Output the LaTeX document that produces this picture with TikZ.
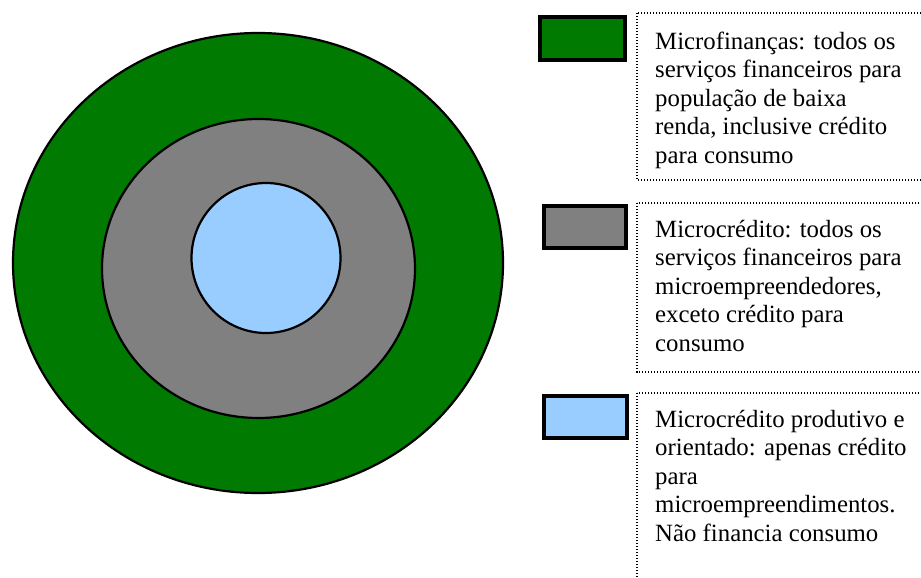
\documentclass[tikz,border=0pt]{standalone}
\usepackage{fontspec}
\setmainfont{Liberation Serif}
\definecolor{ringgreen}{RGB}{0,122,0}
\definecolor{ringgray}{RGB}{128,128,128}
\definecolor{ringblue}{RGB}{153,204,255}
\begin{document}
\begin{tikzpicture}[x=1pt,y=-1pt,
  ring/.style={draw=black,line width=2.2pt},
  swatch/.style={draw=black,line width=4pt},
  frame/.style={draw=black,line width=1.3pt,dash pattern=on 1.3pt off 1.7pt},
  legendtext/.style={anchor=north west,inner sep=0pt,align=left,
    font=\fontsize{24.8}{28.5}\selectfont}]
\useasboundingbox (0,0) rectangle (921,578);
\begin{scope}
\clip (0,0) rectangle (921,578);
% concentric rings
\draw[ring,fill=ringgreen] (258,263) ellipse [x radius=245pt, y radius=230pt];
\draw[ring,fill=ringgray]  (258.5,268.5) ellipse [x radius=156.5pt, y radius=149.5pt];
\draw[ring,fill=ringblue]  (266,258) ellipse [x radius=74.5pt, y radius=75pt];
% legend swatches
\draw[swatch,fill=ringgreen] (540,17) rectangle (625,60);
\draw[swatch,fill=ringgray]  (544,206) rectangle (626,248);
\draw[swatch,fill=ringblue]  (544,396) rectangle (627,438);
% dotted frames around the descriptions
\draw[frame] (637,13) rectangle (945,180);
\draw[frame] (637,203) rectangle (945,372);
\draw[frame] (637,393) rectangle (945,610);
% descriptions
\node[legendtext] (t1) at (655,29) {\strut Microfinanças: todos os\\serviços financeiros para\\população de baixa\\renda, inclusive crédito\\para consumo};
\node[legendtext] (t2) at (655,217) {\strut Microcrédito: todos os\\serviços financeiros para\\microempreendedores,\\exceto crédito para\\consumo};
\node[legendtext] (t3) at (655,407) {\strut Microcrédito produtivo e\\orientado: apenas crédito\\para\\microempreendimentos.\\Não financia consumo};
\end{scope}
\end{tikzpicture}
\end{document}
